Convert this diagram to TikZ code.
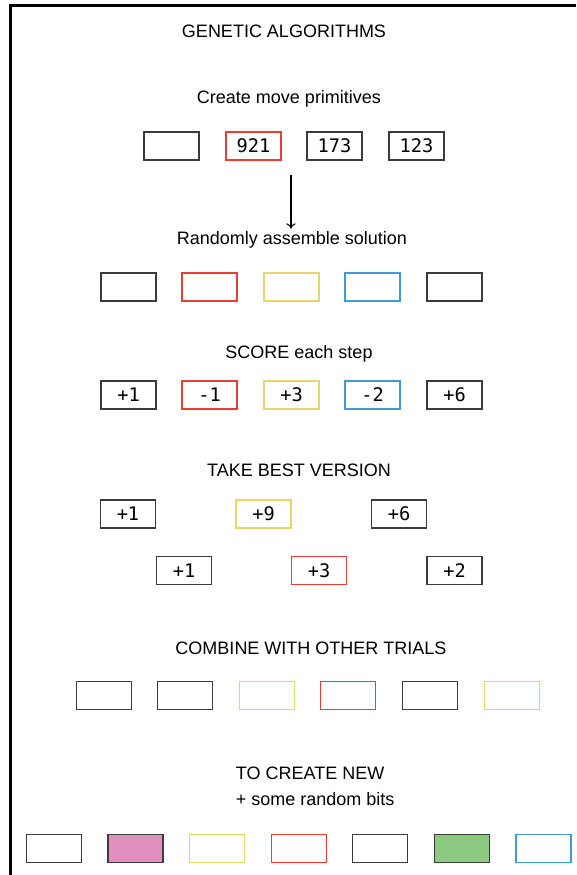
\documentclass[tikz,border=0pt]{standalone}
\usepackage{fontspec}
\setmainfont{Liberation Sans}
\newfontfamily\cellfont{DejaVu Sans Mono}
\usetikzlibrary{arrows.meta}

\definecolor{boxblack}{RGB}{60,60,60}
\definecolor{boxred}{RGB}{232,62,52}
\definecolor{boxyellow}{RGB}{228,214,104}
\definecolor{boxblue}{RGB}{62,155,215}
\definecolor{fillpink}{RGB}{224,143,190}
\definecolor{fillgreen}{RGB}{139,201,128}

\begin{document}
\begin{tikzpicture}[x=0.75pt, y=-0.75pt,
    every node/.style={font=\fontsize{13.5}{18}\selectfont},
    heading/.style={inner sep=2pt},
    cell/.style={draw=boxblack, line width=0.8pt, minimum width=41.25pt,
        minimum height=21pt, inner sep=0pt,
        font=\cellfont\fontsize{14}{15}\selectfont},
    flow/.style={-{To[length=4pt, width=7pt]}, line width=0.8pt}]
    \useasboundingbox (0,0) rectangle (576,875);

    % Frame
    \draw[line width=2.25pt, line join=miter] (10.5,875) -- (10.5,5.5) -- (576,5.5);

    % Headings
    \node[heading] (title) at (284,31) {GENETIC ALGORITHMS};
    \node[heading] (create) at (289,99) {Create move primitives};
    \node[heading] (assemble) at (292,240) {Randomly assemble solution};
    \node[heading] (score) at (299,354) {SCORE each step};
    \node[heading] (best) at (299,470) {TAKE BEST VERSION};
    \node[heading] (combine) at (311,648) {COMBINE WITH OTHER TRIALS};
    \node[heading, anchor=north west, align=left,
        font=\fontsize{13.5}{19.5}\selectfont] (newgen) at (233,764)
        {TO CREATE NEW\\+ some random bits};

    % Move primitives
    \foreach \cx/\col/\txt [count=\i] in {171.5/boxblack/{}, 253.5/boxred/921,
        334.5/boxblack/173, 416.5/boxblack/123}
        \node[cell, draw=\col] (prim\i) at (\cx,146) {\txt};

    \coordinate (split) at (291,175);
    \draw[flow] (split) -- (split |- assemble.north);

    % Random solution
    \foreach \cx/\col [count=\i] in {128.5/boxblack, 209.5/boxred,
        291.5/boxyellow, 372.5/boxblue, 454.5/boxblack}
        \node[cell, draw=\col] (sol\i) at (\cx,287) {};

    % Scores
    \foreach \cx/\col/\txt [count=\i] in {128.5/boxblack/+1, 209.5/boxred/-1,
        291.5/boxyellow/+3, 372.5/boxblue/-2, 454.5/boxblack/+6}
        \node[cell, draw=\col] (pts\i) at (\cx,395) {\txt};

    % Best versions
    \foreach \cx/\col/\txt [count=\i] in {128/boxblack/+1, 263.5/boxyellow/+9,
        399/boxblack/+6}
        \node[cell, draw=\col] (top\i) at (\cx,514) {\txt};
    \foreach \cx/\col/\txt [count=\i] in {184/boxblack/+1, 319/boxred/+3,
        454.5/boxblack/+2}
        \node[cell, draw=\col] (low\i) at (\cx,570.5) {\txt};

    % Combined trials
    \foreach \cx/\col [count=\i] in {104/boxblack, 185/boxblack, 267/boxyellow,
        348/boxred, 430/boxblack, 512/boxyellow}
        \node[cell, draw=\col] (mix\i) at (\cx,695.5) {};

    % New generation
    \foreach \cx/\col/\bg [count=\i] in {54/boxblack/white, 135.5/boxblack/fillpink,
        217/boxyellow/white, 299/boxred/white, 380/boxblack/white,
        462/boxblack/fillgreen, 543.5/boxblue/white}
        \node[cell, draw=\col, fill=\bg] (gen\i) at (\cx,848.5) {};
\end{tikzpicture}
\end{document}
